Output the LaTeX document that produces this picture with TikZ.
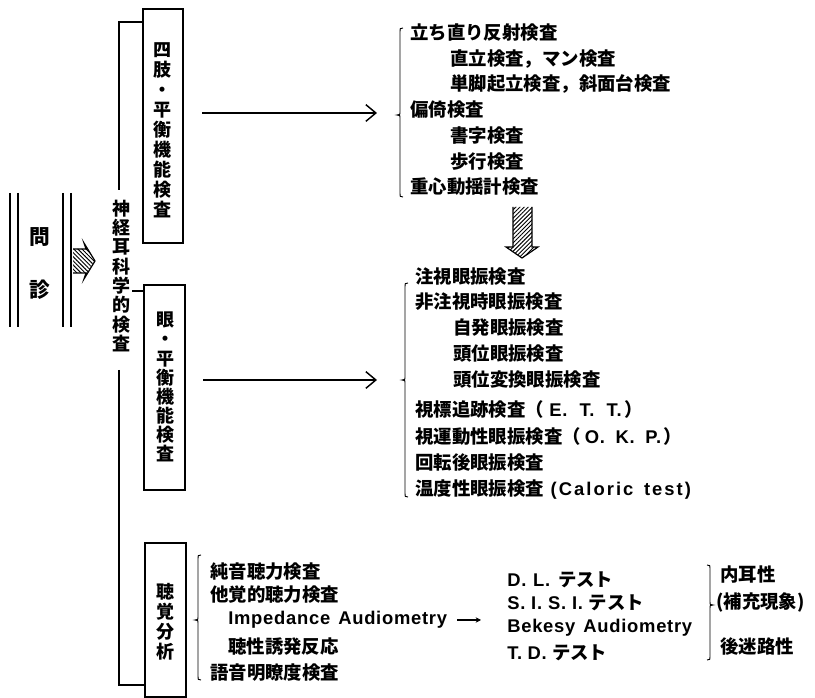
\documentclass[tikz,border=0pt]{standalone}
\usepackage{fontspec}
\setmainfont{Noto Sans CJK JP}
\newfontfamily\latf{Liberation Sans}[LetterSpace=4]
\newfontfamily\latw{Liberation Sans}[LetterSpace=11]
\newcommand{\lat}[1]{{\latf #1}}
\usetikzlibrary{arrows.meta,patterns.meta}
\newcommand{\lf}{\fontsize{13.8}{16}\selectfont\bfseries}
\newcommand{\mylbr}[4]{\draw[brc] ({#1+3},#2) .. controls (#1,#2) .. (#1,{#2+5}) -- (#1,{#3-4}) .. controls (#1,#3) .. ({#1-3},#3) .. controls (#1,#3) .. (#1,{#3+4}) -- (#1,{#4-5}) .. controls (#1,#4) .. ({#1+3},#4);}
\newcommand{\myrbr}[4]{\draw[brc] ({#1-3},#2) .. controls (#1,#2) .. (#1,{#2+5}) -- (#1,{#3-4}) .. controls (#1,#3) .. ({#1+3},#3) .. controls (#1,#3) .. (#1,{#3+4}) -- (#1,{#4-5}) .. controls (#1,#4) .. ({#1-3},#4);}
\begin{document}
\begin{tikzpicture}[x=0.75pt,y=-0.75pt,
  box/.style={draw, line width=1.4pt, inner sep=0pt},
  vt/.style={align=center, inner sep=0pt},
  lt/.style={anchor=west, inner sep=0pt, font=\lf},
  ln/.style={line width=1.1pt},
  dbl/.style={line width=1.3pt},
  brc/.style={line width=0.7pt},
  bigarr/.style={line width=1.1pt, -{Straight Barb[length=7.5pt,width=12.5pt,line width=1.1pt]}},
  smallarr/.style={line width=0.8pt, -{Stealth[length=4pt,width=4pt]}},
  hatch/.style={pattern={Lines[angle=45,distance=2.2pt,line width=0.7pt]}},
  hatchb/.style={pattern={Lines[angle=-45,distance=2.2pt,line width=0.7pt]}}]
\useasboundingbox (0,0) rectangle (815,698);

% left double bars
\draw[dbl] (10,193) -- (10,327);
\draw[dbl] (18,193) -- (18,327);
\draw[dbl] (63,193) -- (63,327);
\draw[dbl] (71,193) -- (71,327);
\node[inner sep=0pt, font=\fontsize{15.5}{18}\selectfont\bfseries] (mon) at (40,237) {問};
\node[inner sep=0pt, font=\fontsize{15.5}{18}\selectfont\bfseries] (shin) at (40,290) {診};

% hatched right arrow
\fill[hatchb] (73,249) -- (86,249) -- (84,243) -- (95,261) -- (84,279) -- (86,273) -- (73,273) -- cycle;
\draw[line width=0.9pt] (73,249) -- (86,249) -- (84,243) -- (95,261) -- (84,279) -- (86,273) -- (73,273);

% vertical main label
\node[vt, font=\fontsize{13.5}{14.5}\selectfont\bfseries] (main) at (121,276) {神\\経\\耳\\科\\学\\的\\検\\査};

% boxes
\node[box, minimum width=40*0.75pt, minimum height=234*0.75pt] (box1) at (163,126) {};
\node[box, minimum width=41*0.75pt, minimum height=205*0.75pt] (box2) at (164.5,387.5) {};
\node[box, minimum width=41*0.75pt, minimum height=154*0.75pt] (box3) at (165.5,620) {};
\node[vt, font=\fontsize{13.5}{15}\selectfont\bfseries] (t1) at (162,130) {四\\肢\\・\\平\\衡\\機\\能\\検\\査};
\node[vt, font=\fontsize{13.5}{14.3}\selectfont\bfseries] (t2) at (165,387) {眼\\・\\平\\衡\\機\\能\\検\\査};
\node[vt, font=\fontsize{13.5}{15}\selectfont\bfseries] (t3) at (165,622) {聴\\覚\\分\\析};

% main bracket
\coordinate (m1) at (119,22);
\coordinate (m2) at (119,190);
\coordinate (m3) at (119,370);
\coordinate (m4) at (119,685);
\coordinate (m5) at (132,291);
\draw[ln] (box1.west |- m1) -- (m1) -- (m2);
\draw[ln] (m3) -- (m4) -- (box3.west |- m4);
\draw[ln] (m5) -- (box2.west |- m5);

% list 1
\mylbr{400}{28}{115}{197}
\foreach \y/\x/\t [count=\i] in {33/410/{立ち直り反射検査}, 58.7/450/{直立検査，マン検査}, 84.4/450/{単脚起立検査，斜面台検査}, 110/410/{偏倚検査}, 135.8/450/{書字検査}, 161.5/450/{歩行検査}, 187/410/{重心動揺計検査}}
  \node[lt] (p\i) at (\x,\y) {\t};
\coordinate (a1s) at (202,113);
\coordinate (a1e) at (377,113);
\draw[bigarr] (a1s) -- (a1e);

% hatched down arrow
\fill[hatch] (513,207) -- (532,207) -- (532,247) -- (538,247) -- (522,258) -- (506,247) -- (513,247) -- cycle;
\draw[line width=0.9pt] (513,207) -- (513,247) -- (506,247) -- (522,258) -- (538,247) -- (532,247) -- (532,207);

% list 2
\mylbr{405}{283}{380}{497}
\foreach \y/\x/\t [count=\i] in {277/415/{注視眼振検査}, 302/415/{非注視時眼振検査}, 328/453/{自発眼振検査}, 354/453/{頭位眼振検査}, 380/453/{頭位変換眼振検査}, 410/415/{視標追跡検査（\hspace{4pt}\lat{E.\hspace{9pt}T.\hspace{9pt}T.}\hspace{2pt}）}, 437/415/{視運動性眼振検査（\hspace{3pt}\lat{O.\hspace{8pt}K.\hspace{8pt}P.}\hspace{2pt}）}, 463/415/{回転後眼振検査}, 490/415/{温度性眼振検査\hspace{5pt}{\latw(Caloric\hspace{8pt}test)}}}
  \node[lt] (q\i) at (\x,\y) {\t};
\coordinate (a2s) at (203,380);
\coordinate (a2e) at (377,380);
\draw[bigarr] (a2s) -- (a2e);

% list 3
\mylbr{198}{555}{620}{680}
\foreach \y/\x/\t [count=\i] in {572/210/{純音聴力検査}, 595/210/{他覚的聴力検査}, 620/228/{\lat{Impedance\hspace{6pt}Audiometry}}, 647/228/{聴性誘発反応}, 673/210/{語音明瞭度検査}}
  \node[lt] (r\i) at (\x,\y) {\t};
\coordinate (a3s) at (457,620);
\coordinate (a3e) at (481,620);
\draw[smallarr] (a3s) -- (a3e);

% list 4
\foreach \y/\t [count=\i] in {580/{\lat{D.\hspace{5pt}L.\hspace{6pt}}テスト}, 603/{\lat{S.\ I.\ S.\ I.\ }テスト}, 628/{\lat{Bekesy\hspace{6pt}Audiometry}}, 653/{\lat{T.\hspace{4pt}D.\hspace{4pt}}テスト}}
  \node[lt] (s\i) at (507,\y) {\t};
\myrbr{710}{565}{605}{660}
\node[lt] (u1) at (720,575) {内耳性};
\node[lt] (u2) at (716,602) {(補充現象)};
\node[lt] (u3) at (720,647) {後迷路性};
\end{tikzpicture}
\end{document}
